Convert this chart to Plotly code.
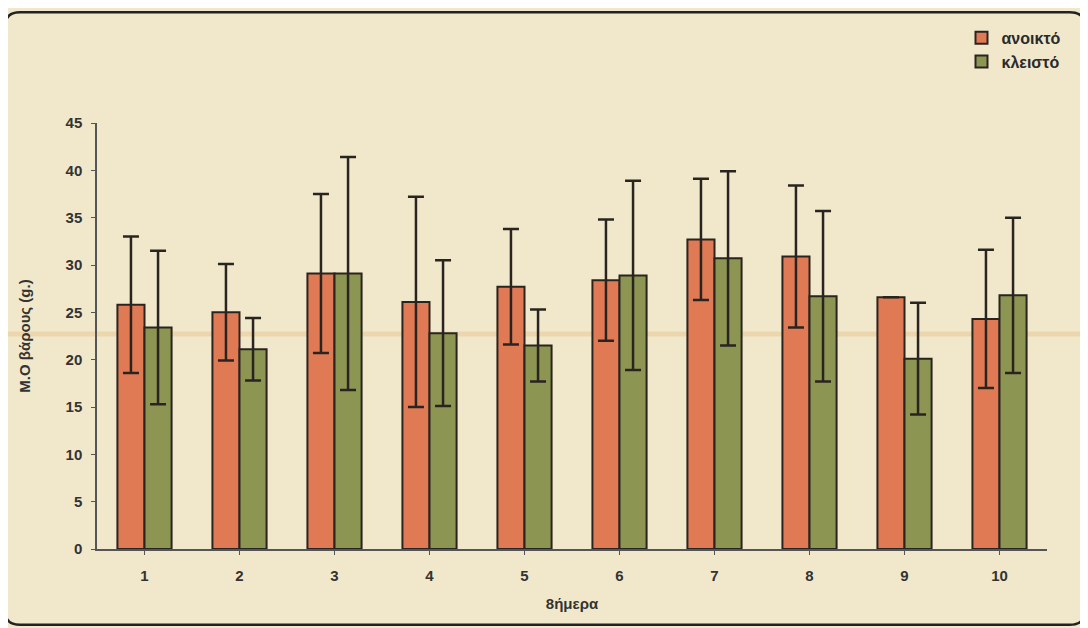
import plotly.graph_objects as go

days = ["1", "2", "3", "4", "5", "6", "7", "8", "9", "10"]
open_mean = [25.8, 25.0, 29.1, 26.1, 27.7, 28.4, 32.7, 30.9, 26.6, 24.3]
open_err = [7.2, 5.1, 8.4, 11.1, 6.1, 6.4, 6.4, 7.5, 0.0, 7.3]
closed_mean = [23.4, 21.1, 29.1, 22.8, 21.5, 28.9, 30.7, 26.7, 20.1, 26.8]
closed_err = [8.1, 3.3, 12.3, 7.7, 3.8, 10.0, 9.2, 9.0, 5.9, 8.2]
y_ticks = [0, 5, 10, 15, 20, 25, 30, 35, 40, 45]

dark = "#2a2420"
font_fam = "Liberation Sans, Arial, sans-serif"

fig = go.Figure()
fig.add_trace(go.Bar(
    x=days, y=open_mean, name="ανοικτό",
    marker=dict(color="#e07a55", line=dict(color=dark, width=2)),
    error_y=dict(type="data", array=open_err, visible=True, color=dark, thickness=2.5, width=8),
))
fig.add_trace(go.Bar(
    x=days, y=closed_mean, name="κλειστό",
    marker=dict(color="#8c9652", line=dict(color=dark, width=2)),
    error_y=dict(type="data", array=closed_err, visible=True, color=dark, thickness=2.5, width=8),
))

# frame (paper coords; plot area spans 950 x 426 px)
L, R, T, B = -0.097, 1.04, 1.26, -0.178
rx, ry = 0.016, 0.035
frame = (f"M {L},{T-ry} L {L},{B+ry} Q {L},{B} {L+rx},{B} L {R-rx},{B} Q {R},{B} {R},{B+ry} "
         f"L {R},{T-ry} Q {R},{T} {R-rx},{T} L {L+rx},{T} Q {L},{T} {L},{T-ry} Z")

fig.update_layout(
    width=1088, height=628,
    paper_bgcolor="#f1e8cb", plot_bgcolor="rgba(0,0,0,0)",
    margin=dict(l=89, r=49, t=115, b=87),
    barmode="group", bargap=0.43, bargroupgap=0.0,
    font=dict(family=font_fam, size=14, color="#333333"),
    showlegend=True,
    legend=dict(
        x=0.91, y=1.24, xref="paper", yref="paper", xanchor="left", yanchor="top",
        bgcolor="rgba(0,0,0,0)", font=dict(size=16, color="#2a2a2a", family=font_fam, weight="bold"),
        itemsizing="constant", tracegroupgap=8, itemwidth=30,
    ),
    xaxis=dict(
        title=dict(text="8ήμερα", font=dict(size=15, family=font_fam, weight="bold", color="#333"), standoff=16),
        showline=True, linecolor="#555", linewidth=1.5, ticks="outside", ticklen=4,
        tickcolor="#555", tickfont=dict(size=15, weight="bold", color="#333"),
        ticklabelstandoff=8, showgrid=False,
    ),
    yaxis=dict(
        title=dict(text="Μ.Ο βάρους (g.)", font=dict(size=15, family=font_fam, weight="bold", color="#333"), standoff=31),
        range=[0, 45], tickvals=y_ticks, showline=True, linecolor="#555", linewidth=1.5,
        ticks="outside", ticklen=4, tickcolor="#555", showgrid=False, zeroline=False,
        tickfont=dict(size=15, weight="bold", color="#333"), ticklabelstandoff=6,
    ),
    shapes=[
        dict(type="line", xref="paper", yref="y", x0=-0.1, x1=1.05, y0=22.7, y1=22.7,
             line=dict(color="rgba(225,180,120,0.35)", width=5), layer="below"),
        dict(type="path", xref="paper", yref="paper", path=frame,
             line=dict(color="#222", width=2.5), layer="above"),
    ],
)

fig.write_html("out.html")
